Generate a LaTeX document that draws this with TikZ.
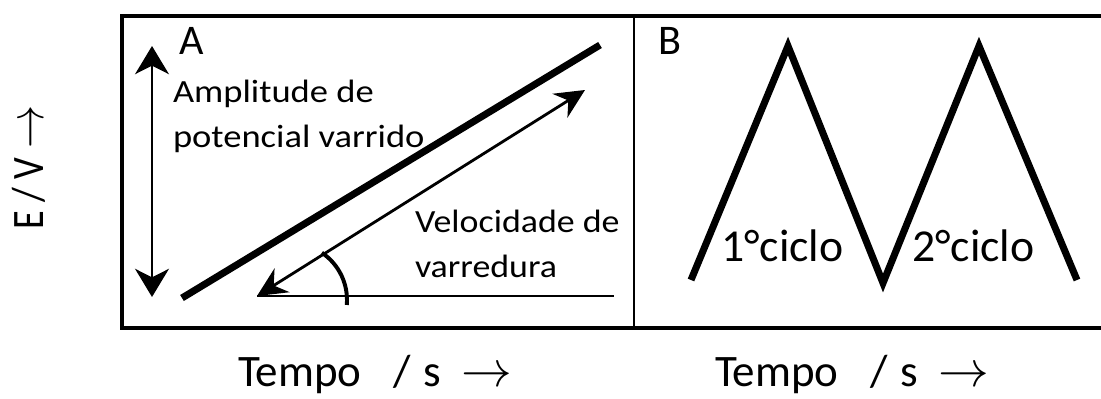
\documentclass[tikz,border=0pt]{standalone}
\usepackage{fontspec}
\usepackage{graphicx}
\setmainfont{Carlito}
\usetikzlibrary{arrows.meta, positioning}
\newcommand{\widen}[2]{\scalebox{#1}[1]{\begin{tabular}[b]{@{}l@{}}#2\end{tabular}}}
\newcommand{\axarrow}{\scalebox{1.45}{$\rightarrow$}}

\begin{document}
\begin{tikzpicture}[
  x=0.025cm, y=-0.025cm,
  every node/.style={inner sep=0pt, outer sep=0pt},
  txt/.style={font=\fontsize{23}{32.5}\selectfont, anchor=base west},
  panellbl/.style={font=\fontsize{30}{36}\selectfont, anchor=base west},
  cyclbl/.style={font=\fontsize{32.5}{38}\selectfont, anchor=base west},
  axislabel/.style={font=\fontsize{32}{38}\selectfont, anchor=base west},
  frame/.style={line width=2.8pt},
  sweep/.style={line width=5pt},
  dbl/.style={{Stealth[length=20pt,width=24pt,inset=6pt]}-{Stealth[length=20pt,width=24pt,inset=6pt]}, line width=1.9pt},
  rate/.style={{Stealth[length=21pt,width=20pt,inset=7pt]}-{Stealth[length=21pt,width=20pt,inset=7pt]}, line width=2pt}
]
  \useasboundingbox (0,0) rectangle (1101,399);

  % Frame: two panels, open on the right
  \coordinate (tl) at (122,16);
  \coordinate (bl) at (122,328);
  \coordinate (tr) at (1101,16);
  \coordinate (br) at (1101,328);
  \coordinate (mt) at (634,16);
  \coordinate (mb) at (634,328);
  \draw[frame] (tr) -- (tl) -- (bl) -- (br);
  \draw[line width=2.1pt] (mt) -- (mb);

  % Panel A: linear sweep
  \node[panellbl] (lblA) at (179,55) {A};
  \coordinate (ampTop) at (152,46);
  \coordinate (ampBot) at (152,297);
  \draw[dbl] (ampBot) -- (ampTop);

  \coordinate (rampS) at (182,298);
  \coordinate (rampE) at (600,45);
  \draw[sweep] (rampS) -- (rampE);

  \coordinate (rateS) at (257,296);
  \coordinate (rateE) at (585,90);
  \draw[rate] (rateS) -- (rateE);
  \coordinate (baseE) at (614,296);
  \draw[line width=1pt] (rateS) -- (baseE);
  \coordinate (arcC) at (290,300);
  \draw[line width=2.8pt] ([shift={(-56:57)}]arcC) arc[start angle=-56, end angle=5, radius=57];

  \node[txt] (amp) at (173,148) {\widen{1.13}{Amplitude de\\potencial varrido}};
  \node[txt] (vel) at (415,278) {\widen{1.11}{Velocidade de\\varredura}};

  % Panel B: cyclic sweep
  \node[panellbl] (lblB) at (658,55) {B};
  \coordinate (z0) at (691,280);
  \coordinate (z1) at (788,46);
  \coordinate (z2) at (883,283);
  \coordinate (z3) at (979,46);
  \coordinate (z4) at (1077,280);
  \draw[sweep, line join=miter] (z0) -- (z1) -- (z2) -- (z3) -- (z4);
  \node[cyclbl] (cyc1) at (721,262) {1°ciclo};
  \node[cyclbl] (cyc2) at (912,262) {2°ciclo};

  % Axis labels
  \node[axislabel] (tA) at (238,387) {Tempo\hspace{0.7em}/\hspace{0.3em}s\hspace{0.45em}\axarrow};
  \node[axislabel] (tB) at (715,387) {Tempo\hspace{0.7em}/\hspace{0.3em}s\hspace{0.45em}\axarrow};
  \node[axislabel, rotate=90] (ev) at (43,230) {\scalebox{0.85}[1]{E / V \axarrow}};
\end{tikzpicture}
\end{document}
